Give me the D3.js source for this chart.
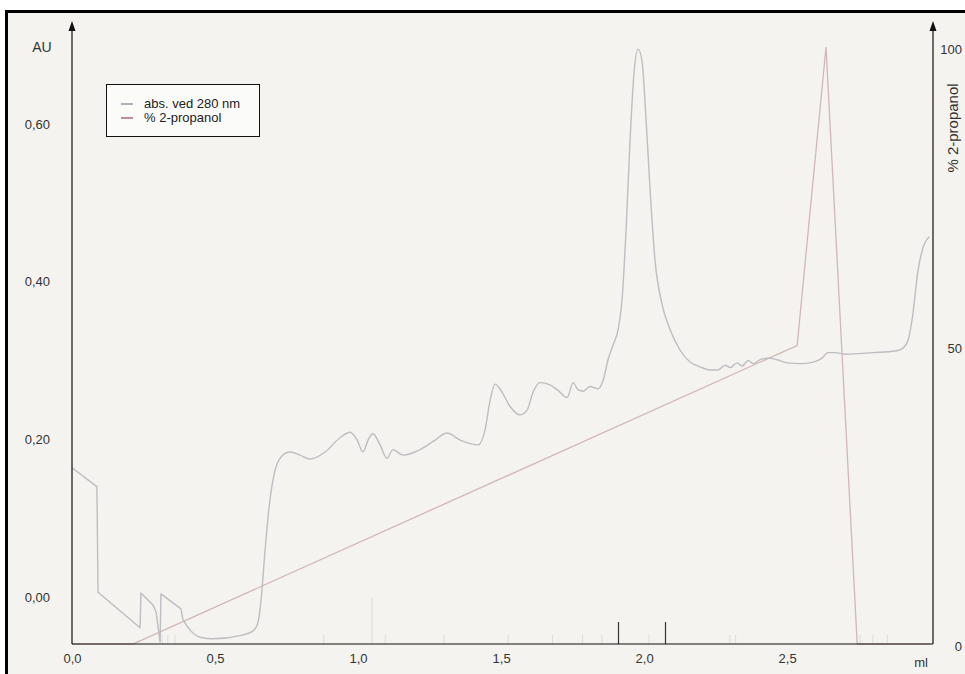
<!DOCTYPE html>
<html>
<head>
<meta charset="utf-8">
<script src="https://cdn.jsdelivr.net/npm/d3@7"></script>
<style>
  html, body { margin: 0; padding: 0; background: #ffffff; }
  svg { display: block; }
  text { font-family: "Liberation Sans", Arial, sans-serif; }
</style>
</head>
<body>
<svg id="chart" width="965" height="674"></svg>
<script>
// ---------- DATA ----------
const absMl = [0, 0.087, 0.091, 0.238, 0.241, 0.283, 0.294, 0.308, 0.311, 0.381, 0.388, 0.413, 0.448, 0.493, 0.587, 0.629, 0.647, 0.661, 0.675, 0.692, 0.710, 0.734, 0.762, 0.797, 0.832, 0.885, 0.937, 0.972, 0.997, 1.017, 1.035, 1.052, 1.077, 1.101, 1.122, 1.157, 1.217, 1.269, 1.311, 1.357, 1.420, 1.444, 1.462, 1.479, 1.503, 1.531, 1.566, 1.591, 1.612, 1.636, 1.671, 1.696, 1.731, 1.752, 1.769, 1.787, 1.811, 1.839, 1.857, 1.874, 1.892, 1.909, 1.923, 1.937, 1.951, 1.965, 1.979, 1.993, 2.007, 2.021, 2.038, 2.063, 2.091, 2.126, 2.161, 2.196, 2.231, 2.259, 2.283, 2.301, 2.325, 2.343, 2.364, 2.381, 2.406, 2.434, 2.465, 2.500, 2.545, 2.591, 2.622, 2.643, 2.668, 2.703, 2.801, 2.878, 2.906, 2.923, 2.937, 2.958, 2.979, 2.997];
const absAU = [0.164, 0.140, 0.006, -0.039, 0.005, -0.010, -0.019, -0.057, 0.004, -0.015, -0.029, -0.042, -0.051, -0.053, -0.049, -0.044, -0.036, -0.004, 0.060, 0.123, 0.161, 0.179, 0.184, 0.180, 0.175, 0.184, 0.202, 0.209, 0.199, 0.184, 0.199, 0.207, 0.193, 0.176, 0.187, 0.180, 0.187, 0.199, 0.208, 0.199, 0.193, 0.212, 0.250, 0.270, 0.260, 0.242, 0.231, 0.237, 0.260, 0.272, 0.269, 0.263, 0.253, 0.272, 0.263, 0.261, 0.267, 0.264, 0.275, 0.301, 0.320, 0.339, 0.377, 0.466, 0.580, 0.666, 0.695, 0.679, 0.605, 0.516, 0.428, 0.371, 0.339, 0.313, 0.298, 0.292, 0.288, 0.288, 0.294, 0.291, 0.297, 0.293, 0.300, 0.296, 0.301, 0.303, 0.301, 0.297, 0.296, 0.298, 0.303, 0.310, 0.310, 0.308, 0.310, 0.312, 0.316, 0.326, 0.352, 0.415, 0.447, 0.457];
// the detector trace is drawn with straight segments up to this volume (injection artefacts), smooth afterwards
const absLinearUntil = 0.388;

const propMl = [0, 0.213, 2.535, 2.636, 2.745, 3.0];
const propPct = [0, 0, 50, 100, 0, 0];

const xTicks = [0, 0.5, 1.0, 1.5, 2.0, 2.5];
const yLeftTicks = [0, 0.2, 0.4, 0.6];
const yRightTicks = [0, 50, 100];

// fraction marks along the x axis (ml)
const blackMarks = [1.909, 2.073];
const faintMarks = [0.315, 0.335, 0.36, 0.88, 1.095, 1.30, 1.525, 1.68, 1.785, 1.852, 2.017, 2.30, 2.32, 2.755, 2.80, 2.85];
const tallFaintMarks = [1.049];

const legendItems = ["abs. ved 280 nm", "% 2-propanol"];

// ---------- LAYOUT ----------
const L = 72, R = 933, B = 644, T = 23;
const svg = d3.select("#chart");

// frame + background
svg.append("rect").attr("x", 6.5).attr("y", 11.5).attr("width", 1000).attr("height", 700)
  .attr("fill", "#f4f3ef").attr("stroke", "#000").attr("stroke-width", 3);

const x = d3.scaleLinear().domain([0, 3.01]).range([L, R]);
const yL = d3.scaleLinear().domain([-0.0596, 0.7281]).range([B, T]);
const yR = d3.scaleLinear().domain([0, 100 * (B - T) / (B - 47)]).range([B, T]);

const fmt = d => d3.format(".1f")(d).replace(".", ",");
const fmt2 = d => d3.format(".2f")(d).replace(".", ",");

// fraction marks
svg.append("g").selectAll("line").data(faintMarks).join("line")
  .attr("x1", d => x(d)).attr("x2", d => x(d))
  .attr("y1", B).attr("y2", B - 9)
  .attr("stroke", "#dcdcd8").attr("stroke-width", 1);
svg.append("g").selectAll("line").data(tallFaintMarks).join("line")
  .attr("x1", d => x(d)).attr("x2", d => x(d))
  .attr("y1", B).attr("y2", yL(0))
  .attr("stroke", "#dcdcd8").attr("stroke-width", 1);
svg.append("g").selectAll("line").data(blackMarks).join("line")
  .attr("x1", d => Math.round(x(d)) + 0.5).attr("x2", d => Math.round(x(d)) + 0.5)
  .attr("y1", B).attr("y2", B - 22)
  .attr("stroke", "#333").attr("stroke-width", 1.2);

// propanol line
const propData = propMl.map((m, i) => ({ m, v: propPct[i] }));
svg.append("path").datum(propData)
  .attr("fill", "none").attr("stroke", "#d2b6b8").attr("stroke-width", 1.3)
  .attr("d", d3.line().x(d => x(d.m)).y(d => yR(d.v)));

// absorbance line
const absData = absMl.map((m, i) => ({ m, v: absAU[i] }));
const absStraight = absData.filter(d => d.m <= absLinearUntil);
const absSmooth = absData.filter(d => d.m >= absLinearUntil);
svg.append("path").datum(absStraight)
  .attr("fill", "none").attr("stroke", "#bdbdc2").attr("stroke-width", 1.4)
  .attr("stroke-linejoin", "round")
  .attr("d", d3.line().x(d => x(d.m)).y(d => yL(d.v)));
svg.append("path").datum(absSmooth)
  .attr("fill", "none").attr("stroke", "#bdbdc2").attr("stroke-width", 1.4)
  .attr("d", d3.line().x(d => x(d.m)).y(d => yL(d.v)).curve(d3.curveMonotoneX));

// axes lines
const axG = svg.append("g").attr("stroke", "#111").attr("stroke-width", 1.2);
axG.append("line").attr("x1", L).attr("x2", R).attr("y1", B).attr("y2", B);
axG.append("line").attr("x1", L).attr("x2", L).attr("y1", B).attr("y2", T + 6);
axG.append("line").attr("x1", R).attr("x2", R).attr("y1", B).attr("y2", T + 6);
[L, R].forEach(px => {
  svg.append("path")
    .attr("d", `M${px},${T - 2} L${px - 3.5},${T + 8} L${px + 3.5},${T + 8} Z`)
    .attr("fill", "#111");
});

// x axis labels
const xAxis = d3.axisBottom(x).tickValues(xTicks).tickFormat(fmt).tickSize(0).tickPadding(10);
const gx = svg.append("g").attr("transform", `translate(0,${B})`).call(xAxis);
gx.select(".domain").remove();
gx.selectAll("text").attr("font-size", 13).attr("fill", "#333")
  .attr("font-family", "Liberation Sans, Arial, sans-serif");

// left axis labels
const yAxisL = d3.axisLeft(yL).tickValues(yLeftTicks).tickFormat(fmt2).tickSize(0).tickPadding(22);
const gyl = svg.append("g").attr("transform", `translate(${L},0)`).call(yAxisL);
gyl.select(".domain").remove();
gyl.selectAll("text").attr("font-size", 13).attr("fill", "#333")
  .attr("font-family", "Liberation Sans, Arial, sans-serif");

// right axis labels
const yAxisR = d3.axisRight(yR).tickValues(yRightTicks).tickFormat(d3.format("d")).tickSize(0).tickPadding(29);
const gyr = svg.append("g").attr("transform", `translate(${R},0)`).call(yAxisR);
gyr.select(".domain").remove();
gyr.selectAll("text").attr("font-size", 13).attr("fill", "#333")
  .attr("text-anchor", "end").attr("dy", "0.5em")
  .attr("font-family", "Liberation Sans, Arial, sans-serif");

// axis titles
svg.append("text").attr("x", 42).attr("y", 52).attr("text-anchor", "middle")
  .attr("font-size", 14).attr("fill", "#333").text("AU");
svg.append("text").attr("x", 928).attr("y", 667).attr("text-anchor", "end")
  .attr("font-size", 13).attr("fill", "#333").text("ml");
svg.append("text").attr("transform", "translate(958,128) rotate(-90)")
  .attr("text-anchor", "middle").attr("font-size", 15).attr("fill", "#333").text("% 2-propanol");

// legend
const lg = svg.append("g");
lg.append("rect").attr("x", 106.5).attr("y", 84.5).attr("width", 153).attr("height", 52)
  .attr("fill", "#fbfbfa").attr("stroke", "#111").attr("stroke-width", 1);
const legendColors = ["#7b7b98", "#a3405a"];
legendItems.forEach((t, i) => {
  const yy = 104 + i * 14;
  lg.append("line").attr("x1", 121).attr("x2", 133).attr("y1", yy).attr("y2", yy)
    .attr("stroke", legendColors[i]).attr("stroke-width", 1.2);
  lg.append("text").attr("x", 144).attr("y", yy + 4).attr("font-size", 13)
    .attr("fill", "#222").text(t);
});
</script>
</body>
</html>
